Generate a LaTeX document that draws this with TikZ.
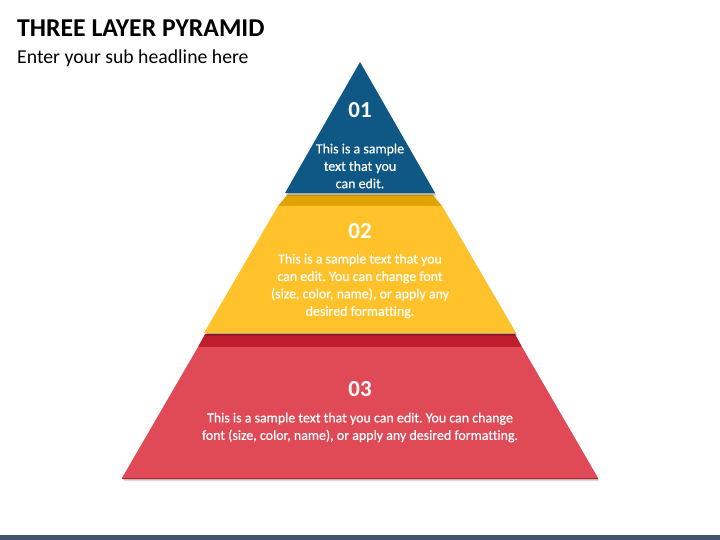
\documentclass[tikz,border=0pt]{standalone}
\usepackage{fontspec}
\setmainfont{Carlito}[Ligatures=NoCommon]
\newfontfamily\bodyfont{Carlito}[FakeBold=0.4,Ligatures=NoCommon]
\frenchspacing
\definecolor{blueL}{HTML}{0F5784}
\definecolor{yelF}{HTML}{FFC22B}
\definecolor{yelB}{HTML}{E0A504}
\definecolor{redF}{HTML}{E04A56}
\definecolor{redB}{HTML}{BE1E2D}
\definecolor{barC}{HTML}{44546A}
\begin{document}
\begin{tikzpicture}[x=1bp,y=-1bp,
  shd/.style={fill=black,opacity=0.13},
  numtxt/.style={text=white,font=\fontsize{23}{27}\selectfont\bfseries,inner sep=0},
  bodytxt/.style={text=white,font=\fontsize{14}{17.5}\selectfont\bodyfont,align=center,inner sep=0},
  titletxt/.style={font=\fontsize{25.8}{30}\selectfont\bfseries,anchor=base west,inner sep=0},
  subtxt/.style={font=\fontsize{19.8}{23}\selectfont,anchor=base west,inner sep=0}]
\useasboundingbox (0,0) rectangle (720,540);
\fill[white] (0,0) rectangle (720,540);
% bottom bar
\fill[barC] (0,535) rectangle (720,540);
% titles
\node[titletxt] (title) at (17,36.5) {THREE LAYER PYRAMID};
\node[subtxt] (sub) at (17,64) {Enter your sub headline here};
% red layer
\foreach \dx/\dy in {0.5/1,1/2,1.5/3.2}{
  \fill[shd,shift={(\dx,\dy)}] (198,347)--(522,347)--(598,478)--(122,478)--cycle;}
\fill[redB] (205,334)--(515,334)--(522,347)--(198,347)--cycle;
\fill[redF] (198,347)--(522,347)--(598,478)--(122,478)--cycle;
\draw[redB,line width=0.8] (122,478)--(598,478);
% yellow layer
\foreach \dx/\dy in {0.5/1,1/2,1.5/3.2}{
  \fill[shd,shift={(\dx,\dy)}] (278,206)--(442,206)--(516,333)--(204,333)--cycle;}
\fill[yelB] (287,195)--(433,195)--(442,206)--(278,206)--cycle;
\fill[yelF] (278,206)--(442,206)--(516,333)--(204,333)--cycle;
% blue layer
\foreach \dx/\dy in {0.5/1,1/2,1.5/3.2}{
  \fill[shd,shift={(\dx,\dy)}] (360,62)--(435,193)--(285,193)--cycle;}
\fill[blueL] (360,62)--(435,193)--(285,193)--cycle;
% texts
\node[numtxt] (n1) at (360,110.5) {01};
\node[bodytxt] (t1) at (360,166) {This is a sample\\text that you\\can edit.};
\node[numtxt] (n2) at (360,231.5) {02};
\node[bodytxt] (t2) at (360,286) {This is a sample text that you\\can edit. You can change font\\(size, color, name), or apply any\\desired formatting.};
\node[numtxt] (n3) at (360,389) {03};
\node[bodytxt] (t3) at (360,427.5) {This is a sample text that you can edit. You can change\\font (size, color, name), or apply any desired formatting.};
\end{tikzpicture}
\end{document}
